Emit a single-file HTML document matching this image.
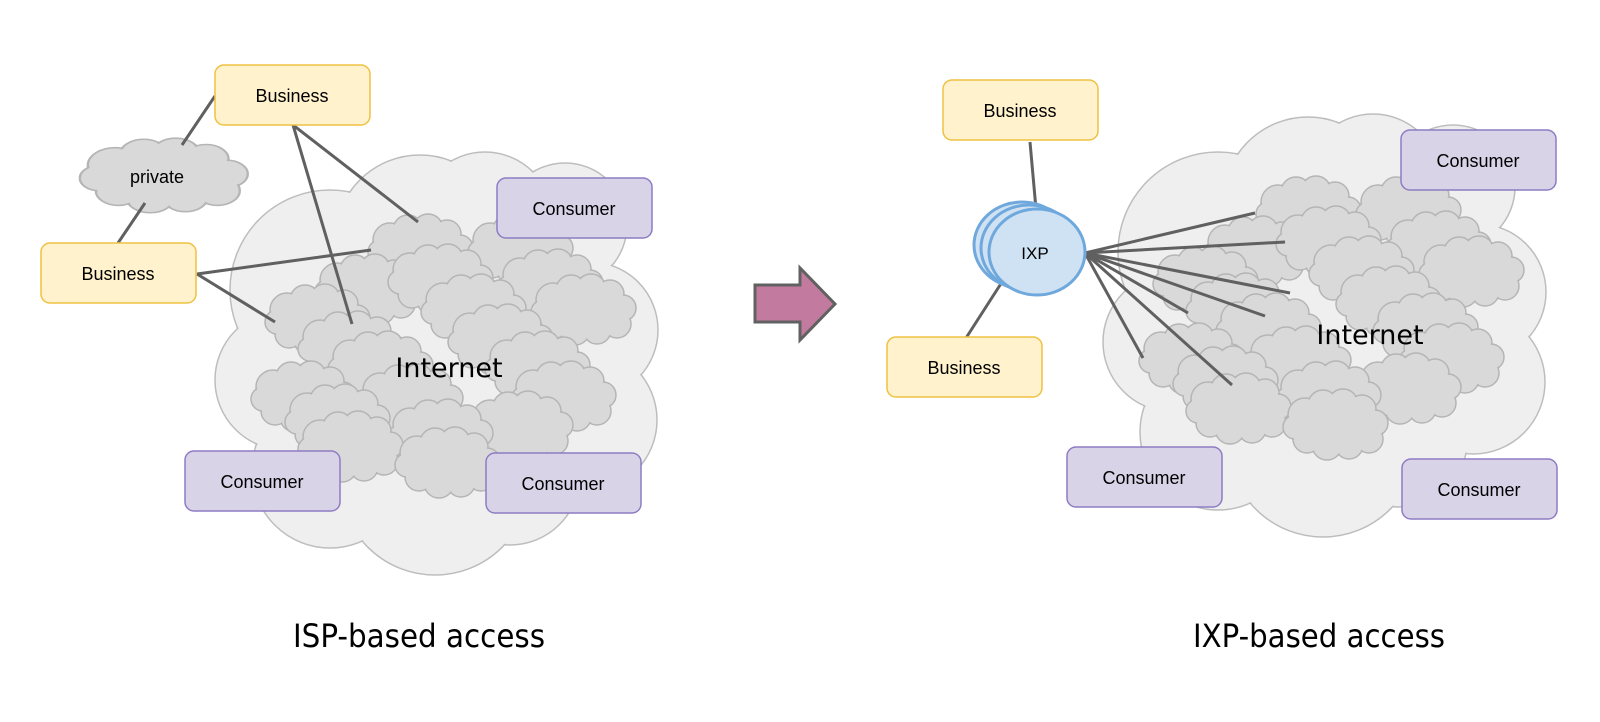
<!DOCTYPE html>
<html><head><meta charset="utf-8"><style>
html,body{margin:0;padding:0;background:#fff;}
svg{display:block;}
</style></head><body>
<svg width="1600" height="722" viewBox="0 0 1600 722" xmlns="http://www.w3.org/2000/svg">
<defs>
<g id="sc">
 <g fill="#d9d9d9" stroke="#b5b5b5" stroke-width="1.5">
  <circle cx="-30" cy="-10" r="17"/><circle cx="-12" cy="-20" r="15"/><circle cx="8" cy="-21" r="15"/><circle cx="27" cy="-16" r="14"/>
  <circle cx="40" cy="-2" r="13"/><circle cx="34" cy="14" r="14"/><circle cx="14" cy="20" r="14"/><circle cx="-8" cy="20" r="15"/>
  <circle cx="-28" cy="14" r="14"/><circle cx="-40" cy="2" r="12"/>
 </g>
 <g fill="#d9d9d9">
  <circle cx="-30" cy="-10" r="16"/><circle cx="-12" cy="-20" r="14"/><circle cx="8" cy="-21" r="14"/><circle cx="27" cy="-16" r="13"/>
  <circle cx="40" cy="-2" r="12"/><circle cx="34" cy="14" r="13"/><circle cx="14" cy="20" r="13"/><circle cx="-8" cy="20" r="14"/>
  <circle cx="-28" cy="14" r="13"/><circle cx="-40" cy="2" r="11"/>
  <ellipse cx="0" cy="0" rx="36" ry="22"/>
 </g>
</g>
<g id="big">
 <g fill="#efefef" stroke="#bdbdbd" stroke-width="1.5">
  <circle cx="330" cy="290" r="100"/><circle cx="420" cy="240" r="85"/><circle cx="485" cy="220" r="68"/><circle cx="565" cy="225" r="62"/>
  <circle cx="590" cy="330" r="68"/><circle cx="585" cy="420" r="72"/><circle cx="510" cy="475" r="70"/><circle cx="435" cy="480" r="95"/>
  <circle cx="330" cy="470" r="78"/><circle cx="285" cy="380" r="70"/>
 </g>
 <g fill="#efefef">
  <circle cx="330" cy="290" r="99"/><circle cx="420" cy="240" r="84"/><circle cx="485" cy="220" r="67"/><circle cx="565" cy="225" r="61"/>
  <circle cx="590" cy="330" r="67"/><circle cx="585" cy="420" r="71"/><circle cx="510" cy="475" r="69"/><circle cx="435" cy="480" r="94"/>
  <circle cx="330" cy="470" r="77"/><circle cx="285" cy="380" r="69"/><circle cx="440" cy="360" r="140"/>
 </g>
 <use href="#sc" x="420" y="250"/><use href="#sc" x="520" y="250"/><use href="#sc" x="367" y="290"/>
 <use href="#sc" x="440" y="280"/><use href="#sc" x="550" y="285"/><use href="#sc" x="317" y="320"/>
 <use href="#sc" x="473" y="310"/><use href="#sc" x="583" y="310"/><use href="#sc" x="350" y="347"/>
 <use href="#sc" x="500" y="340"/><use href="#sc" x="380" y="367"/><use href="#sc" x="537" y="367"/>
 <use href="#sc" x="303" y="397"/><use href="#sc" x="410" y="400"/><use href="#sc" x="563" y="397"/>
 <use href="#sc" x="337" y="420"/><use href="#sc" x="520" y="427"/><use href="#sc" x="440" y="435"/>
 <use href="#sc" x="350" y="447"/><use href="#sc" x="447" y="463"/>
</g>
</defs>

<!-- LEFT -->
<use href="#big"/>
<text x="449" y="377" font-family="DejaVu Sans, sans-serif" font-size="27" text-anchor="middle" fill="#000">Internet</text>

<g transform="translate(163,176) scale(1.6,1.05)"><use href="#sc"/></g>
<text x="157" y="183" font-family="Liberation Sans, sans-serif" font-size="18" text-anchor="middle">private</text>

<g stroke="#606060" stroke-width="3" fill="none">
 <line x1="215" y1="96" x2="182" y2="145"/>
 <line x1="145" y1="203" x2="118" y2="243"/>
 <line x1="293" y1="125" x2="418" y2="222"/>
 <line x1="293" y1="125" x2="352" y2="324"/>
 <line x1="197" y1="274" x2="371" y2="250"/>
 <line x1="197" y1="274" x2="275" y2="322"/>
</g>

<g font-family="Liberation Sans, sans-serif" font-size="18" text-anchor="middle">
 <rect x="215" y="65" width="155" height="60" rx="9" fill="#fff2cc" stroke="#efc142" stroke-width="1.5"/>
 <text x="292" y="102">Business</text>
 <rect x="41" y="243" width="155" height="60" rx="9" fill="#fff2cc" stroke="#efc142" stroke-width="1.5"/>
 <text x="118" y="280">Business</text>
 <rect x="497" y="178" width="155" height="60" rx="9" fill="#d9d3e8" stroke="#8e7cc3" stroke-width="1.5"/>
 <text x="574" y="215">Consumer</text>
 <rect x="185" y="451" width="155" height="60" rx="9" fill="#d9d3e8" stroke="#8e7cc3" stroke-width="1.5"/>
 <text x="262" y="488">Consumer</text>
 <rect x="486" y="453" width="155" height="60" rx="9" fill="#d9d3e8" stroke="#8e7cc3" stroke-width="1.5"/>
 <text x="563" y="490">Consumer</text>
</g>

<!-- ARROW -->
<polygon points="755,285 800,285 800,268 835,304 800,340 800,322 755,322" fill="#c27b9f" stroke="#616161" stroke-width="3" stroke-linejoin="miter"/>

<!-- RIGHT -->
<g transform="translate(888,-38)"><use href="#big"/></g>
<text x="1370" y="344" font-family="DejaVu Sans, sans-serif" font-size="27" text-anchor="middle" fill="#000">Internet</text>

<g stroke="#606060" stroke-width="3" fill="none">
 <line x1="1030" y1="142" x2="1036" y2="209"/>
 <line x1="1002" y1="282" x2="966" y2="338"/>
 <line x1="1085" y1="253" x2="1255" y2="213"/>
 <line x1="1085" y1="253" x2="1285" y2="242"/>
 <line x1="1085" y1="253" x2="1290" y2="293"/>
 <line x1="1085" y1="253" x2="1265" y2="316"/>
 <line x1="1085" y1="253" x2="1188" y2="313"/>
 <line x1="1085" y1="253" x2="1143" y2="358"/>
 <line x1="1085" y1="253" x2="1232" y2="385"/>
</g>

<g fill="#cfe2f3" stroke="#6fa8dc" stroke-width="3">
 <ellipse cx="1022" cy="245" rx="48" ry="43"/>
 <ellipse cx="1029" cy="248" rx="48" ry="43"/>
 <ellipse cx="1037" cy="252" rx="48" ry="43"/>
</g>
<text x="1035" y="259" font-family="Liberation Sans, sans-serif" font-size="17" text-anchor="middle">IXP</text>

<g font-family="Liberation Sans, sans-serif" font-size="18" text-anchor="middle">
 <rect x="943" y="80" width="155" height="60" rx="9" fill="#fff2cc" stroke="#efc142" stroke-width="1.5"/>
 <text x="1020" y="117">Business</text>
 <rect x="887" y="337" width="155" height="60" rx="9" fill="#fff2cc" stroke="#efc142" stroke-width="1.5"/>
 <text x="964" y="374">Business</text>
 <rect x="1401" y="130" width="155" height="60" rx="9" fill="#d9d3e8" stroke="#8e7cc3" stroke-width="1.5"/>
 <text x="1478" y="167">Consumer</text>
 <rect x="1067" y="447" width="155" height="60" rx="9" fill="#d9d3e8" stroke="#8e7cc3" stroke-width="1.5"/>
 <text x="1144" y="484">Consumer</text>
 <rect x="1402" y="459" width="155" height="60" rx="9" fill="#d9d3e8" stroke="#8e7cc3" stroke-width="1.5"/>
 <text x="1479" y="496">Consumer</text>
</g>

<text x="293" y="647" font-family="DejaVu Sans, sans-serif" font-size="32" textLength="252" lengthAdjust="spacingAndGlyphs">ISP-based access</text>
<text x="1193" y="647" font-family="DejaVu Sans, sans-serif" font-size="32" textLength="252" lengthAdjust="spacingAndGlyphs">IXP-based access</text>
</svg>
</body></html>
